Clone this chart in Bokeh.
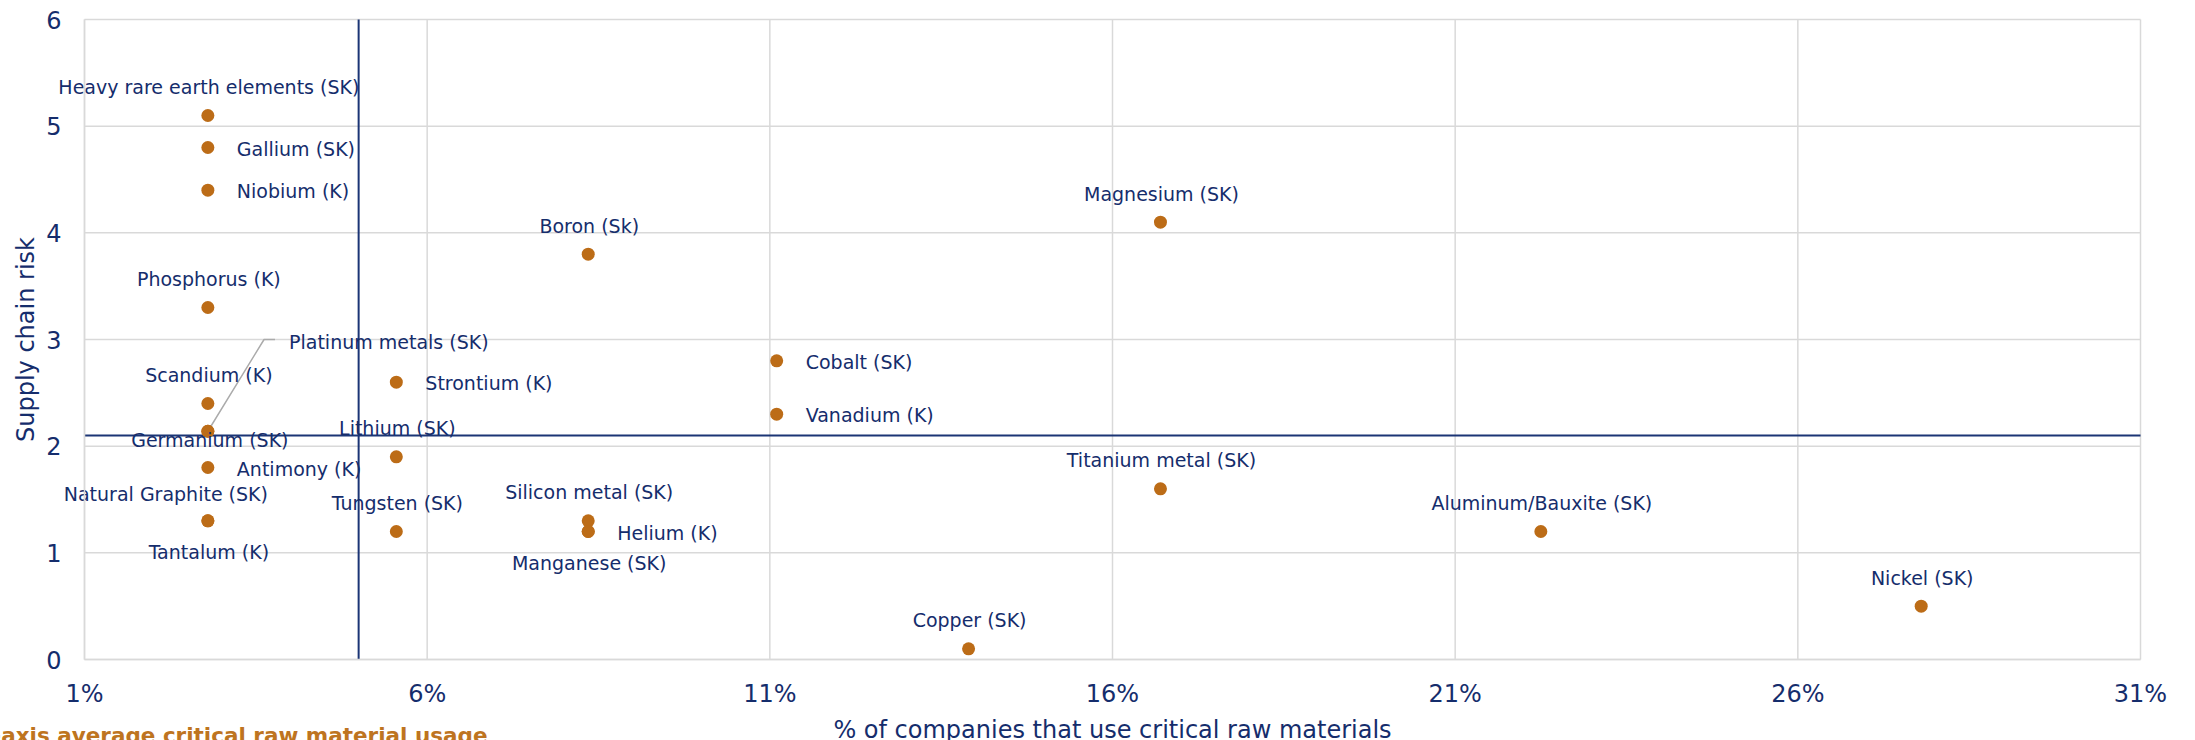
import math
from bokeh.plotting import figure
from bokeh.models import ColumnDataSource, Label, FixedTicker, CustomJSTickFormatter, Range1d
from bokeh.embed import file_html
from bokeh.resources import INLINE
from bokeh.core.properties import value

# ---------------- data ----------------
materials = [
    "Heavy rare earth elements (SK)", "Gallium (SK)", "Niobium (K)", "Phosphorus (K)",
    "Scandium (K)", "Germanium (SK)", "Platinum metals (SK)", "Antimony (K)",
    "Natural Graphite (SK)", "Tantalum (K)", "Strontium (K)", "Lithium (SK)",
    "Tungsten (SK)", "Boron (Sk)", "Silicon metal (SK)", "Helium (K)",
    "Manganese (SK)", "Cobalt (SK)", "Vanadium (K)", "Copper (SK)",
    "Titanium metal (SK)", "Magnesium (SK)", "Aluminum/Bauxite (SK)", "Nickel (SK)",
]
usage_pct = [2.8, 2.8, 2.8, 2.8, 2.8, 2.8, 2.8, 2.8, 2.8, 2.8,
             5.55, 5.55, 5.55, 8.35, 8.35, 8.35, 8.35,
             11.1, 11.1, 13.9, 16.7, 16.7, 22.25, 27.8]
supply_risk = [5.1, 4.8, 4.4, 3.3, 2.4, 2.14, 2.14, 1.8, 1.3, 1.3,
               2.6, 1.9, 1.2, 3.8, 1.3, 1.2, 1.2,
               2.8, 2.3, 0.1, 1.6, 4.1, 1.2, 0.5]
label_side = ["above", "right", "right", "above", "above", "below_close", "leader", "right",
              "above_left", "below", "right", "above", "above", "above", "above", "right",
              "below", "right", "right", "above", "above", "above", "above", "above"]

x_ticks = [1, 6, 11, 16, 21, 26, 31]
y_ticks = [0, 1, 2, 3, 4, 5, 6]
avg_usage = 5.0      # x-axis average critical raw material usage
avg_risk = 2.1       # average supply chain risk

x_title = "% of companies that use critical raw materials"
y_title = "Supply chain risk"
avg_note = "X-axis average critical raw material usage"

# ---------------- style ----------------
FONT = "DejaVu Sans"
NAVY = "#152D6C"
LINE_NAVY = "#1B3575"
DOT = "#BC6C17"
ORANGE = "#BE7420"
GRID = "#D9D9D9"

W, H = 2195, 740
# plot area inside the canvas (pixels)
LEFT, RIGHT, TOP, BOTTOM = 84, 55, 19, 81
ppx = (W - LEFT - RIGHT) / (x_ticks[-1] - x_ticks[0])
ppy = (H - TOP - BOTTOM) / (y_ticks[-1] - y_ticks[0])
BASE_FIX = 6.5   # svg baseline correction (px)

p = figure(width=W, height=H, output_backend="svg", toolbar_location=None,
           x_range=Range1d(x_ticks[0] - LEFT / ppx, x_ticks[-1] + RIGHT / ppx),
           y_range=Range1d(y_ticks[0] - BOTTOM / ppy, y_ticks[-1] + TOP / ppy))
p.min_border_left = 0
p.min_border_right = 0
p.min_border_top = 0
p.min_border_bottom = 0
p.outline_line_color = None
p.background_fill_color = "white"
p.border_fill_color = "white"
p.xgrid.visible = False
p.ygrid.visible = False

# axes fixed at the data origin so they take no extra panel space
p.xaxis.fixed_location = y_ticks[0]
p.yaxis.fixed_location = x_ticks[0]
p.xaxis.bounds = (x_ticks[0], x_ticks[-1])
p.yaxis.bounds = (y_ticks[0], y_ticks[-1])
for ax in (p.xaxis[0], p.yaxis[0]):
    ax.axis_line_color = GRID
    ax.axis_line_width = 1.5
    ax.major_tick_line_color = None
    ax.minor_tick_line_color = None
    ax.major_tick_out = 0
    ax.major_tick_in = 0
    ax.major_label_text_font = FONT
    ax.major_label_text_font_size = "24px"
    ax.major_label_text_color = NAVY

p.xaxis.ticker = FixedTicker(ticks=x_ticks)
p.yaxis.ticker = FixedTicker(ticks=y_ticks)
p.xaxis.formatter = CustomJSTickFormatter(code="return tick + '%';")
p.xaxis.major_label_standoff = 20
p.yaxis.major_label_standoff = 23

# grid lines limited to the plot area
p.segment(x0=x_ticks, y0=[y_ticks[0]] * len(x_ticks), x1=x_ticks, y1=[y_ticks[-1]] * len(x_ticks),
          line_color=GRID, line_width=1.5)
p.segment(x0=[x_ticks[0]] * len(y_ticks), y0=y_ticks, x1=[x_ticks[-1]] * len(y_ticks), y1=y_ticks,
          line_color=GRID, line_width=1.5)

# average lines
p.line([avg_usage, avg_usage], [y_ticks[0], y_ticks[-1]], line_color=LINE_NAVY, line_width=2)
p.line([x_ticks[0], x_ticks[-1]], [avg_risk, avg_risk], line_color=LINE_NAVY, line_width=2)

# leader line for the platinum label
pi_idx = materials.index("Platinum metals (SK)")
leader_elbow = (3.62, 3.0)
leader_end = (3.78, 3.0)
p.line([usage_pct[pi_idx], leader_elbow[0], leader_end[0]],
       [supply_risk[pi_idx], leader_elbow[1], leader_end[1]],
       line_color="#ABABAB", line_width=1.5)

# points
p.scatter(usage_pct, supply_risk, size=13, fill_color=DOT, line_color=None)

# labels (offsets = wanted baseline offset in px, corrected for the svg baseline)
offsets = {
    "above": (1, -22, "center"),
    "above_left": (-42, -20, "center"),
    "right": (29, 7.5, "left"),
    "below": (1, 37.5, "center"),
    "below_close": (2, 15.5, "center"),
    "leader": (14, 8.5, "left"),
}
lx, ly, lxo, lyo, lal = [], [], [], [], []
for name, x, y, side in zip(materials, usage_pct, supply_risk, label_side):
    xo, yo, al = offsets[side]
    if side == "leader":
        x, y = leader_end
    lx.append(x); ly.append(y); lxo.append(xo); lyo.append(yo - BASE_FIX); lal.append(al)

src = ColumnDataSource(dict(x=lx, y=ly, text=materials, xo=lxo, yo=lyo, al=lal))
p.text(x="x", y="y", text="text", x_offset="xo", y_offset="yo", text_align="al",
       source=src, text_font=value(FONT), text_font_size="19px", text_color=NAVY,
       text_baseline="alphabetic")

# axis titles and the note
p.add_layout(Label(x=(x_ticks[0] + x_ticks[-1]) / 2, y=y_ticks[0] - (77 - BASE_FIX) / ppy,
                   text=x_title, text_font=FONT, text_font_size="24px", text_color=NAVY,
                   text_align="center", text_baseline="alphabetic"))
p.add_layout(Label(x=x_ticks[0] - (52 + BASE_FIX) / ppx, y=(y_ticks[0] + y_ticks[-1]) / 2,
                   text=y_title, text_font=FONT, text_font_size="24px", text_color=NAVY,
                   text_align="center", text_baseline="alphabetic", angle=math.pi / 2))
p.add_layout(Label(x=x_ticks[0] + 403 / ppx, y=y_ticks[0] - (82.5 - BASE_FIX) / ppy,
                   text=avg_note, text_font=FONT, text_font_size="21.5px", text_font_style="bold",
                   text_color=ORANGE, text_align="right", text_baseline="alphabetic"))

open("out.html", "w").write(file_html(p, INLINE))
